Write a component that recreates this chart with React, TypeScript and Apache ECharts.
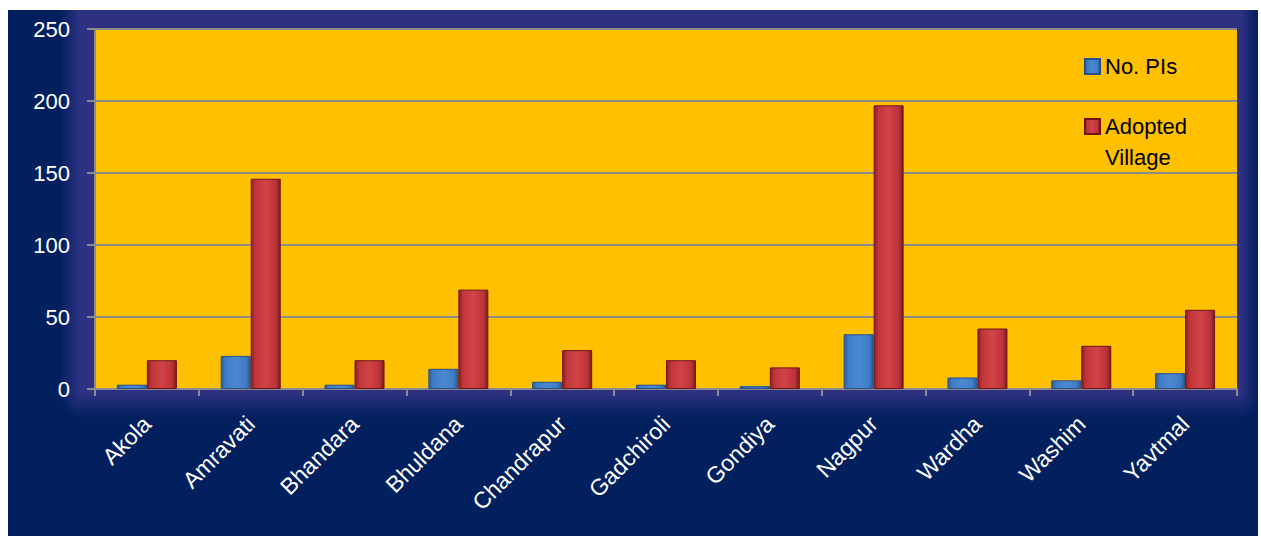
import React, { useEffect, useRef } from "react";
import * as echarts from "echarts";

const districts = ["Akola", "Amravati", "Bhandara", "Bhuldana", "Chandrapur", "Gadchiroli", "Gondiya", "Nagpur", "Wardha", "Washim", "Yavtmal"];
const noPIs = [3, 23, 3, 14, 5, 3, 2, 38, 8, 6, 11];
const adoptedVillage = [20, 146, 20, 69, 27, 20, 15, 197, 42, 30, 55];
const yTicks = [0, 50, 100, 150, 200, 250];

const FONT = "'Liberation Sans', 'DejaVu Sans', sans-serif";
const NAVY = "#02205E";
const PURPLE = "#2E3182";

export default function App() {
  const ref = useRef<HTMLDivElement>(null);
  useEffect(() => {
    if (!ref.current) return;
    const chart = echarts.init(ref.current, null, { renderer: "svg" });
    const blueGrad = new echarts.graphic.LinearGradient(0, 0, 1, 0, [
      { offset: 0, color: "#2C5E9E" },
      { offset: 0.15, color: "#3F7CC4" },
      { offset: 0.5, color: "#4A89D2" },
      { offset: 0.85, color: "#3F7CC4" },
      { offset: 1, color: "#2A5A98" },
    ]);
    const redGrad = new echarts.graphic.LinearGradient(0, 0, 1, 0, [
      { offset: 0, color: "#8E1E24" },
      { offset: 0.15, color: "#C0363B" },
      { offset: 0.5, color: "#D24347" },
      { offset: 0.85, color: "#BB3338" },
      { offset: 1, color: "#7E1A1F" },
    ]);
    const lin = (x1: number, y1: number, x2: number, y2: number, a: string, b: string) =>
      new echarts.graphic.LinearGradient(x1, y1, x2, y2, [
        { offset: 0, color: a },
        { offset: 1, color: b },
      ]);
    const rad = (cx: number, cy: number) =>
      new echarts.graphic.RadialGradient(cx, cy, 1, [
        { offset: 0, color: PURPLE },
        { offset: 1, color: NAVY },
      ]);
    const PL = 80, PR = 1240, PT = 10, PB = 393, GL = 60, GR = 1258, GB = 418;
    chart.setOption({
      animation: false,
      textStyle: { fontFamily: FONT },
      graphic: [
        { type: "rect", z: -20, silent: true, shape: { x: 8, y: 10, width: 1250, height: 526 }, style: { fill: NAVY } },
        { type: "rect", z: -19, silent: true, shape: { x: PL, y: PT, width: PR - PL, height: PB - PT }, style: { fill: PURPLE } },
        { type: "rect", z: -19, silent: true, shape: { x: GL, y: PT, width: PL - GL, height: PB - PT }, style: { fill: lin(0, 0, 1, 0, NAVY, PURPLE) } },
        { type: "rect", z: -19, silent: true, shape: { x: PR, y: PT, width: GR - PR, height: PB - PT }, style: { fill: lin(0, 0, 1, 0, PURPLE, NAVY) } },
        { type: "rect", z: -19, silent: true, shape: { x: PL, y: PB, width: PR - PL, height: GB - PB }, style: { fill: lin(0, 0, 0, 1, PURPLE, NAVY) } },
        { type: "rect", z: -19, silent: true, shape: { x: GL, y: PB, width: PL - GL, height: GB - PB }, style: { fill: rad(1, 0) } },
        { type: "rect", z: -19, silent: true, shape: { x: PR, y: PB, width: GR - PR, height: GB - PB }, style: { fill: rad(0, 0) } },
      ],
      grid: { left: 95, right: 24, top: 29, bottom: 147, containLabel: false, show: true, backgroundColor: "#FFC000", borderWidth: 0 },
      legend: {
        orient: "vertical",
        left: 1079,
        top: 46,
        itemWidth: 15,
        itemHeight: 15,
        itemGap: -2,
        icon: "rect",
        data: ["No. PIs", "Adopted Village"],
        formatter: (n: string) => (n === "Adopted Village" ? " \nAdopted\nVillage" : n),
        textStyle: { color: "#000000", fontSize: 22, lineHeight: 31, fontFamily: FONT },
      },
      xAxis: {
        type: "category",
        data: districts,
        axisLine: { show: true, lineStyle: { color: "#8C8C8C", width: 2 } },
        axisTick: { show: true, length: 7, lineStyle: { color: "#8C8C8C", width: 2 } },
        axisLabel: { color: "#ffffff", fontSize: 23, rotate: 45, margin: 31, fontFamily: FONT, interval: 0 },
        splitLine: { show: false },
      },
      yAxis: {
        type: "value",
        min: 0,
        max: 250,
        interval: 50,
        axisLine: { show: true, lineStyle: { color: "#8C8C8C", width: 2 } },
        axisTick: { show: true, length: 8, lineStyle: { color: "#8C8C8C", width: 2 } },
        axisLabel: {
          color: "#ffffff", fontSize: 22, margin: 25, fontFamily: FONT,
          formatter: (v: number) => (yTicks.includes(v) ? String(v) : ""),
        },
        splitLine: { show: true, lineStyle: { color: "#8C8C8C", width: 2 } },
      },
      series: [
        {
          name: "No. PIs",
          type: "bar",
          data: noPIs,
          barWidth: 30,
          barGap: "0%",
          itemStyle: { color: blueGrad, borderColor: "#24508A", borderWidth: 1 },
        },
        {
          name: "Adopted Village",
          type: "bar",
          data: adoptedVillage,
          barWidth: 30,
          barGap: "0%",
          itemStyle: { color: redGrad, borderColor: "#6E151A", borderWidth: 1 },
        },
      ],
    });
    return () => chart.dispose();
  }, []);
  return (
    <div style={{ position: "absolute", left: 0, top: 0, width: 1261, height: 536, background: "#ffffff" }}>
      <div ref={ref} style={{ width: 1261, height: 536 }} />
    </div>
  );
}
